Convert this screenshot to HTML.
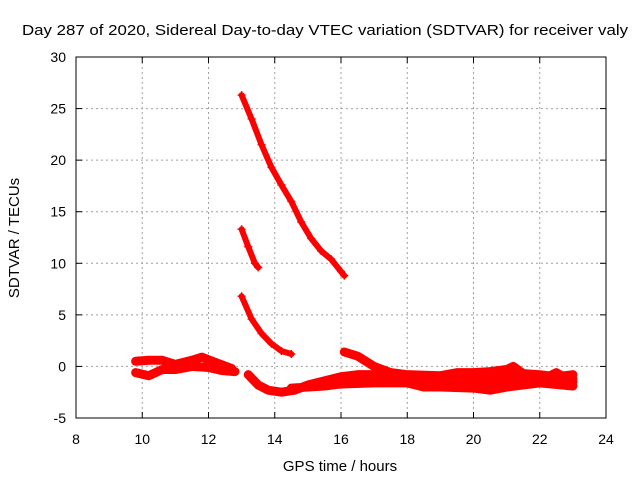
<!DOCTYPE html>
<html><head><meta charset="utf-8"><style>
body{margin:0;background:#fff}
svg{display:block;font-family:"Liberation Sans",sans-serif}
</style></head><body>
<svg id="c" width="640" height="480">
<rect width="640" height="480" fill="#fff"/>
<text x="22" y="35" font-size="15" textLength="606" lengthAdjust="spacingAndGlyphs">Day 287 of 2020, Sidereal Day-to-day VTEC variation (SDTVAR) for receiver valy</text>
<text x="340" y="471" font-size="15" text-anchor="middle">GPS time / hours</text>
<text transform="translate(19,238) rotate(-90)" font-size="15" text-anchor="middle">SDTVAR / TECUs</text>
<g id="grid"></g><g id="data"></g><g id="axes"></g>
</svg>
<script>
const xTicks=[8,10,12,14,16,18,20,22,24];
const yTicks=[-5,0,5,10,15,20,25,30];
const s1x=[13.0,13.3,13.6,13.9,14.2,14.5,14.8,15.1,15.4,15.7,16.0,16.1];
const s1y=[26.3,24,21.5,19.3,17.6,16,14,12.4,11.2,10.4,9.2,8.8];
const s2x=[13.0,13.2,13.4,13.5];
const s2y=[13.3,11.6,10,9.6];
const s3x=[13.0,13.3,13.6,13.9,14.2,14.5];
const s3y=[6.8,4.6,3.2,2.2,1.5,1.2];
const a1x=[9.8,10.2,10.6,11,11.5,11.8,12.2,12.7];
const a1y=[0.5,0.6,0.6,0.2,0.6,0.9,0.4,-0.2];
const a2x=[9.8,10.2,10.6,11,11.5,12,12.4,12.8];
const a2y=[-0.6,-0.9,-0.3,-0.3,0,-0.1,-0.4,-0.5];
const b1x=[13.2,13.5,13.8,14.2,14.6,15,15.5,16,16.5,17,18,19,20,21,22,23];
const b1y=[-0.8,-1.8,-2.3,-2.5,-2.3,-1.8,-1.4,-1.0,-0.8,-0.8,-1.0,-1.2,-1.2,-0.9,-1.1,-1.2];
const b2x=[14.5,15,15.5,16,17,18,18.5,19,20,20.5,21,22,23];
const b2y=[-2.1,-2.0,-1.9,-1.7,-1.6,-1.6,-2.0,-2.0,-2.1,-2.3,-2.0,-1.6,-1.9];
const b3x=[16.1,16.5,17,17.5,18,19,19.5,20,20.5,21,21.2,21.5,22,22.5,23];
const b3y=[1.4,1.0,0,-0.6,-0.8,-0.9,-0.6,-0.6,-0.5,-0.3,0,-0.7,-0.8,-1.0,-0.8];
const b4x=[16,17,18,19,20,21,22,22.5,23];
const b4y=[-1.3,-1.2,-1.5,-1.4,-1.8,-1.6,-1.4,-0.6,-1.5];
const series=[[s1x,s1y],[s2x,s2y],[s3x,s3y],[a1x,a1y],[a2x,a2y],[b1x,b1y],[b2x,b2y],[b3x,b3y],[b4x,b4y]];
const L=76,R=606,T=57,B=418;
const X=v=>L+(v-8)/16*(R-L), Y=v=>B-(v+5)/35*(B-T);
const NS="http://www.w3.org/2000/svg";
function mk(p,t,a){const e=document.createElementNS(NS,t);for(const k in a)e.setAttribute(k,a[k]);p.appendChild(e);return e;}
const g=document.getElementById('grid'),ax=document.getElementById('axes'),d=document.getElementById('data');
xTicks.forEach(v=>{
 if(v>8&&v<24){const l=mk(g,'line',{x1:X(v),x2:X(v),y1:T,y2:B,stroke:'#a0a0a0','stroke-dasharray':'2,3'});
 
 }
 mk(ax,'line',{x1:X(v),x2:X(v),y1:B,y2:B-6,stroke:'#000'});
 mk(ax,'line',{x1:X(v),x2:X(v),y1:T,y2:T+6,stroke:'#000'});
 const t=mk(ax,'text',{x:X(v),y:B+26,'font-size':14,'text-anchor':'middle'});t.textContent=v;
 
 
});
yTicks.forEach(v=>{
 if(v>-5&&v<30){const l=mk(g,'line',{x1:L,x2:R,y1:Y(v),y2:Y(v),stroke:'#a0a0a0','stroke-dasharray':'2,3'});
 
 }
 mk(ax,'line',{x1:L,x2:L+6,y1:Y(v),y2:Y(v),stroke:'#000'});
 mk(ax,'line',{x1:R,x2:R-6,y1:Y(v),y2:Y(v),stroke:'#000'});
 const t=mk(ax,'text',{x:L-10,y:Y(v)+5,'font-size':14,'text-anchor':'end'});t.textContent=v;
 
 
});
const fr=mk(ax,'rect',{x:L,y:T,width:R-L,height:B-T,fill:'none',stroke:'#000'});


series.forEach(([xs,ys],i)=>{
 const pl=mk(d,'polyline',{points:xs.map((x,j)=>X(x)+','+Y(ys[j])).join(' '),fill:'none',stroke:'#f00','stroke-width':i<3?6:9,'stroke-linejoin':'round','stroke-linecap':'round'});
 
 
 xs.forEach((x,j)=>{const px=X(x),py=Y(ys[j]);
  mk(d,'path',{d:`M${px-4},${py}h8M${px},${py-4}v8`,stroke:'#f00','stroke-width':1.5});});
});
</script>
</body></html>
